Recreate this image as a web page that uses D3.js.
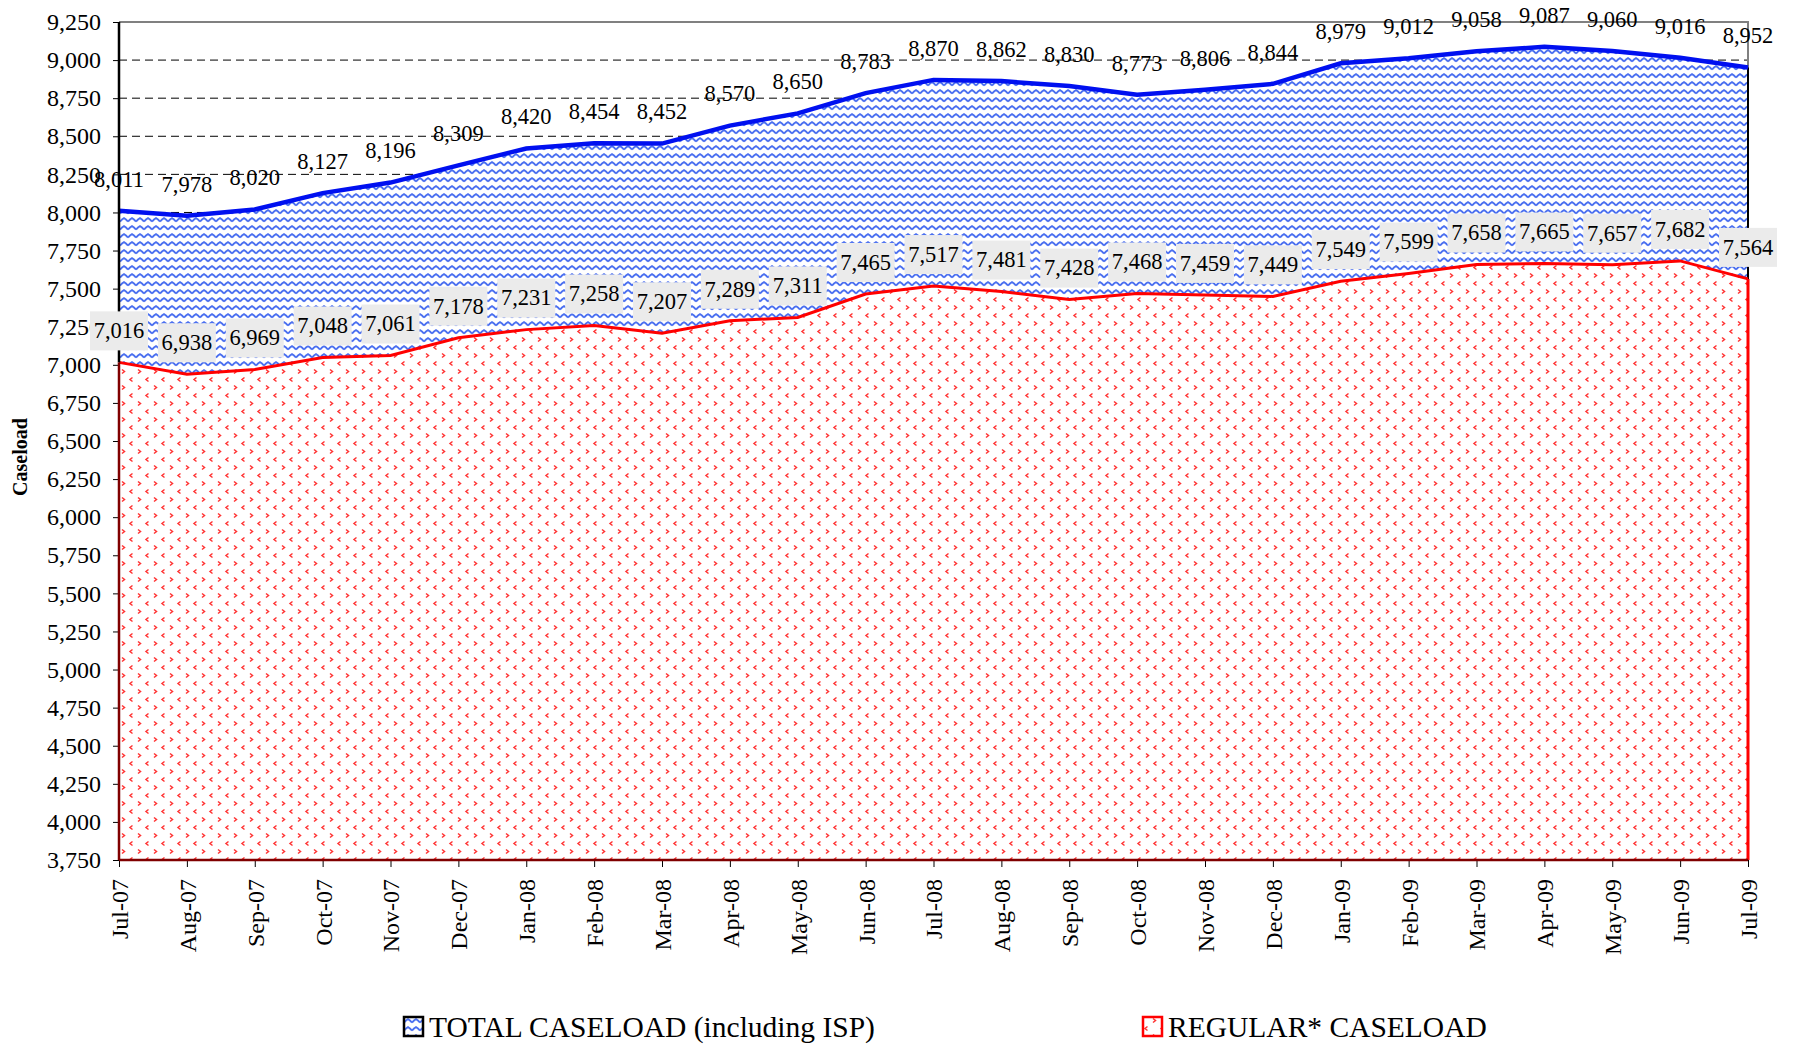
<!DOCTYPE html>
<html>
<head>
<meta charset="utf-8">
<script src="https://cdn.jsdelivr.net/npm/d3@7"></script>
<style>
  body { margin: 0; background: #fff; }
  text { font-family: "Liberation Serif", "Times New Roman", serif; }
</style>
</head>
<body>
<div id="chart"></div>
<script>
// months on the x axis
var months = ["Jul-07", "Aug-07", "Sep-07", "Oct-07", "Nov-07", "Dec-07", "Jan-08", "Feb-08", "Mar-08",
    "Apr-08", "May-08", "Jun-08", "Jul-08", "Aug-08", "Sep-08", "Oct-08", "Nov-08", "Dec-08",
    "Jan-09", "Feb-09", "Mar-09", "Apr-09", "May-09", "Jun-09", "Jul-09"];

// total caseload (including ISP)
var totalValues = [8011, 7978, 8020, 8127, 8196, 8309, 8420, 8454, 8452, 8570, 8650, 8783, 8870,
    8862, 8830, 8773, 8806, 8844, 8979, 9012, 9058, 9087, 9060, 9016, 8952];

// regular caseload
var regularValues = [7016, 6938, 6969, 7048, 7061, 7178, 7231, 7258, 7207, 7289, 7311, 7465, 7517,
    7481, 7428, 7468, 7459, 7449, 7549, 7599, 7658, 7665, 7657, 7682, 7564];

// y axis ticks
var yTicks = d3.range(3750, 9251, 250);

var legendLabels = ["TOTAL CASELOAD (including ISP)", "REGULAR* CASELOAD"];

var width = 1793, height = 1045;
var margin = { top: 22, right: 45, bottom: 185, left: 119 };

var svg = d3.select("#chart").append("svg")
    .attr("width", width)
    .attr("height", height);

// fill patterns
var defs = svg.append("defs");

var wave = defs.append("pattern")
    .attr("id", "wave")
    .attr("patternUnits", "userSpaceOnUse")
    .attr("width", 8)
    .attr("height", 8);
wave.append("rect").attr("width", 8).attr("height", 8).attr("fill", "#fff");
wave.append("path")
    .attr("d", "M0,5.5 L2,3.5 L4,2 L6,3.5 L8,5.5")
    .attr("fill", "none")
    .attr("stroke", "#4a6ff0")
    .attr("stroke-width", 1.8);

var chev = defs.append("pattern")
    .attr("id", "chev")
    .attr("patternUnits", "userSpaceOnUse")
    .attr("width", 16)
    .attr("height", 16);
chev.append("rect").attr("width", 16).attr("height", 16).attr("fill", "#fff");
chev.append("path")
    .attr("d", "M10,1.5 L12.5,3.5 L10,5.5")
    .attr("fill", "none")
    .attr("stroke", "#ff3333")
    .attr("stroke-width", 1.5);
chev.append("path")
    .attr("d", "M4.5,9.5 L2,11.5 L4.5,13.5")
    .attr("fill", "none")
    .attr("stroke", "#ff3333")
    .attr("stroke-width", 1.5);

// scales
var x = d3.scalePoint()
    .domain(months)
    .range([margin.left, width - margin.right]);

var y = d3.scaleLinear()
    .domain([3750, 9250])
    .range([height - margin.bottom, margin.top]);

var fmt = d3.format(",");

// dashed gridlines (they sit behind the opaque areas)
svg.append("g").selectAll("line")
    .data(yTicks.filter(function (d) { return d > 3750 && d < 9250; }))
    .enter().append("line")
    .attr("x1", margin.left)
    .attr("x2", width - margin.right)
    .attr("y1", function (d) { return y(d); })
    .attr("y2", function (d) { return y(d); })
    .attr("stroke", "#000")
    .attr("stroke-width", 1)
    .attr("stroke-dasharray", "8,5");

// plot frame top and right
svg.append("path")
    .attr("d", "M" + margin.left + "," + y(9250) + " H" + x("Jul-09") + " V" + y(3750))
    .attr("fill", "none")
    .attr("stroke", "#808080")
    .attr("stroke-width", 2);

var idx = d3.range(months.length);

var areaTotal = d3.area()
    .x(function (i) { return x(months[i]); })
    .y0(y(3750))
    .y1(function (i) { return y(totalValues[i]); });

var areaRegular = d3.area()
    .x(function (i) { return x(months[i]); })
    .y0(y(3750))
    .y1(function (i) { return y(regularValues[i]); });

svg.append("path").datum(idx)
    .attr("d", areaTotal)
    .attr("fill", "url(#wave)");

// black right edge of total area
svg.append("line")
    .attr("x1", x("Jul-09")).attr("x2", x("Jul-09"))
    .attr("y1", y(totalValues[24])).attr("y2", y(regularValues[24]))
    .attr("stroke", "#000").attr("stroke-width", 2);

svg.append("path").datum(idx)
    .attr("d", areaRegular)
    .attr("fill", "url(#chev)");

// red right edge of regular area
svg.append("line")
    .attr("x1", x("Jul-09")).attr("x2", x("Jul-09"))
    .attr("y1", y(regularValues[24])).attr("y2", y(3750))
    .attr("stroke", "#ff0000").attr("stroke-width", 3);

// lines
var lineTotal = d3.line()
    .x(function (i) { return x(months[i]); })
    .y(function (i) { return y(totalValues[i]); });

var lineRegular = d3.line()
    .x(function (i) { return x(months[i]); })
    .y(function (i) { return y(regularValues[i]); });

svg.append("path").datum(idx)
    .attr("d", lineRegular)
    .attr("fill", "none")
    .attr("stroke", "#ff0000")
    .attr("stroke-width", 3);

svg.append("path").datum(idx)
    .attr("d", lineTotal)
    .attr("fill", "none")
    .attr("stroke", "#0010f0")
    .attr("stroke-width", 4.5);

// axes
var yAxis = svg.append("g")
    .attr("transform", "translate(" + margin.left + ",0)")
    .call(d3.axisLeft(y).tickValues(yTicks).tickFormat(fmt).tickSize(6).tickPadding(12));
yAxis.select(".domain").remove();
yAxis.selectAll("text").attr("font-size", "24px").attr("fill", "#000")
    .style("font-family", "'Liberation Serif', serif");

var xAxis = svg.append("g")
    .attr("transform", "translate(0," + y(3750) + ")")
    .call(d3.axisBottom(x).tickSize(7));
xAxis.select(".domain").remove();
xAxis.selectAll("text")
    .attr("font-size", "24px")
    .attr("fill", "#000")
    .style("font-family", "'Liberation Serif', serif")
    .attr("text-anchor", "end")
    .attr("transform", "rotate(-90)")
    .attr("x", -19)
    .attr("y", 0)
    .attr("dy", "0.35em");

// axis lines: black above the red area, dark red alongside it
svg.append("line")
    .attr("x1", margin.left).attr("x2", margin.left)
    .attr("y1", y(9250)).attr("y2", y(regularValues[0]))
    .attr("stroke", "#000").attr("stroke-width", 2.5);
svg.append("line")
    .attr("x1", margin.left).attr("x2", margin.left)
    .attr("y1", y(regularValues[0])).attr("y2", y(3750))
    .attr("stroke", "#800000").attr("stroke-width", 2.5);
svg.append("line")
    .attr("x1", margin.left).attr("x2", x("Jul-09"))
    .attr("y1", y(3750)).attr("y2", y(3750))
    .attr("stroke", "#800000").attr("stroke-width", 2.5);

// value labels for the total series
svg.append("g").selectAll("text")
    .data(idx)
    .enter().append("text")
    .attr("x", function (i) { return x(months[i]); })
    .attr("y", function (i) { return y(totalValues[i]) - 32; })
    .attr("dy", "0.35em")
    .attr("text-anchor", "middle")
    .attr("font-size", "22.5px")
    .attr("fill", "#000")
    .text(function (i) { return fmt(totalValues[i]); });

// value labels for the regular series, on grey boxes
var regLabels = svg.append("g").selectAll("g")
    .data(idx)
    .enter().append("g")
    .attr("transform", function (i) {
        return "translate(" + x(months[i]) + "," + (y(regularValues[i]) - 32) + ")";
    });
regLabels.append("rect")
    .attr("x", -29).attr("y", -19)
    .attr("width", 58).attr("height", 39)
    .attr("fill", "#ebebeb");
regLabels.append("text")
    .attr("dy", "0.35em")
    .attr("text-anchor", "middle")
    .attr("font-size", "22.5px")
    .attr("fill", "#000")
    .text(function (i) { return fmt(regularValues[i]); });

// y axis title
svg.append("text")
    .attr("transform", "translate(27,457) rotate(-90)")
    .attr("text-anchor", "middle")
    .attr("font-size", "20px")
    .attr("font-weight", "bold")
    .text("Caseload");

// legend
var legendData = [
    { label: legendLabels[0], x: 404, fill: "url(#wave)", stroke: "#000" },
    { label: legendLabels[1], x: 1143, fill: "url(#chev)", stroke: "#ff0000" }
];
var legend = svg.append("g").selectAll("g")
    .data(legendData)
    .enter().append("g")
    .attr("transform", function (d) { return "translate(" + d.x + ",1017)"; });
legend.append("rect")
    .attr("width", 19).attr("height", 19)
    .attr("fill", function (d) { return d.fill; })
    .attr("stroke", function (d) { return d.stroke; })
    .attr("stroke-width", 2.5);
legend.append("text")
    .attr("x", 25)
    .attr("y", 20)
    .attr("font-size", "29.5px")
    .attr("fill", "#000")
    .text(function (d) { return d.label; });
</script>
</body>
</html>
